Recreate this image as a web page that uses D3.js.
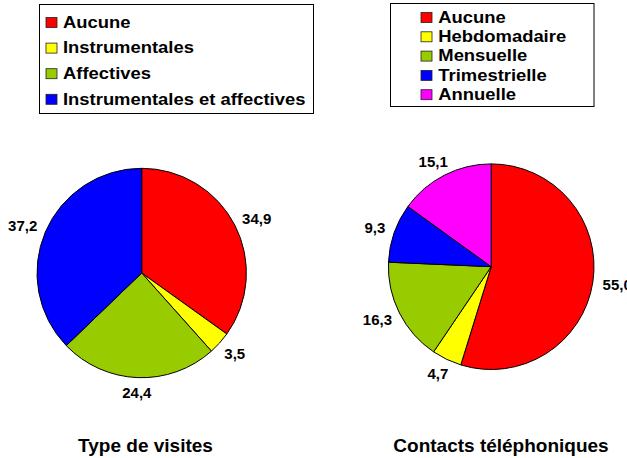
<!DOCTYPE html>
<html>
<head>
<meta charset="utf-8">
<script src="https://cdn.jsdelivr.net/npm/d3@7"></script>
<style>
  body { margin: 0; background: #fff; }
  svg { display: block; }
  text { font-family: "Liberation Sans", Arial, Helvetica, sans-serif; font-weight: bold; fill: #000; }
</style>
</head>
<body>
<svg id="chart" width="627" height="458"></svg>
<script>
// Type de visites
const visitCategories = ["Aucune", "Instrumentales", "Affectives", "Instrumentales et affectives"];
const visitValues = [34.9, 3.5, 24.4, 37.2];
const visitColors = ["#ff0000", "#ffff00", "#99cc00", "#0000ff"];

// Contacts téléphoniques
const phoneCategories = ["Aucune", "Hebdomadaire", "Mensuelle", "Trimestrielle", "Annuelle"];
const phoneValues = [55.0, 4.7, 16.3, 9.3, 15.1];
const phoneColors = ["#ff0000", "#ffff00", "#99cc00", "#0000ff", "#ff00ff"];

const titles = ["Type de visites", "Contacts téléphoniques"];

const frLocale = d3.formatLocale({ decimal: ",", thousands: " ", grouping: [3], currency: ["", " €"] });
const fmt = frLocale.format(".1f");

const svg = d3.select("#chart");

const panels = [
  {
    categories: visitCategories, values: visitValues, colors: visitColors, title: titles[0],
    cx: 141.7, cy: 273, r: 104.7,
    legend: { x: 39.5, y: 4.5, w: 274, h: 109, markerX: 46, textX: 63, baseline: 27.7, step: 25.6 },
    titleX: 145.5
  },
  {
    categories: phoneCategories, values: phoneValues, colors: phoneColors, title: titles[1],
    cx: 491.2, cy: 266.7, r: 102.8,
    legend: { x: 390.5, y: 3.5, w: 203.5, h: 103, markerX: 421, textX: 438.3, baseline: 22.7, step: 19.3 },
    titleX: 501
  }
];

const labelSize = 15;
const labelGap = 10;

panels.forEach(p => {
  const g = svg.append("g");

  // legend
  const lg = g.append("g");
  lg.append("rect")
    .attr("x", p.legend.x).attr("y", p.legend.y)
    .attr("width", p.legend.w).attr("height", p.legend.h)
    .attr("fill", "#fff").attr("stroke", "#000").attr("stroke-width", 1);

  const items = lg.selectAll("g.item")
    .data(p.categories)
    .join("g")
    .attr("class", "item");

  items.append("rect")
    .attr("x", p.legend.markerX)
    .attr("y", (d, i) => p.legend.baseline + i * p.legend.step - 10.2)
    .attr("width", 11).attr("height", 10)
    .attr("fill", (d, i) => p.colors[i])
    .attr("stroke", "#222").attr("stroke-width", 0.8);

  items.append("text")
    .attr("transform", (d, i) => `translate(${p.legend.textX},${p.legend.baseline + i * p.legend.step}) scale(1.13,1)`)
    .attr("font-size", 16.3)
    .text(d => d);

  // pie
  const pie = d3.pie().sort(null).value(d => d);
  const arcs = pie(p.values);
  const arc = d3.arc().innerRadius(0).outerRadius(p.r);

  const pg = g.append("g").attr("transform", `translate(${p.cx},${p.cy})`);
  pg.selectAll("path")
    .data(arcs)
    .join("path")
    .attr("d", arc)
    .attr("fill", (d, i) => p.colors[i])
    .attr("stroke", "#000")
    .attr("stroke-width", 1)
    .attr("stroke-linejoin", "round");

  // value labels outside the slices
  const labels = pg.selectAll("text.val")
    .data(arcs)
    .join("text")
    .attr("class", "val")
    .attr("font-size", labelSize)
    .attr("text-anchor", "middle")
    .text(d => fmt(d.data));

  labels.each(function (d) {
    const w = this.getBBox().width;
    const h = labelSize * 0.716;
    const a = (d.startAngle + d.endAngle) / 2;
    const s = Math.sin(a), c = Math.cos(a);
    const x = (p.r + labelGap) * s + (w / 2) * s;
    const y = -(p.r + labelGap) * c - (h / 2) * c;
    d3.select(this).attr("x", x).attr("y", y + h / 2);
  });

  // title
  g.append("text")
    .attr("x", p.titleX).attr("y", 452)
    .attr("text-anchor", "middle")
    .attr("font-size", 19)
    .text(p.title);
});
</script>
</body>
</html>
